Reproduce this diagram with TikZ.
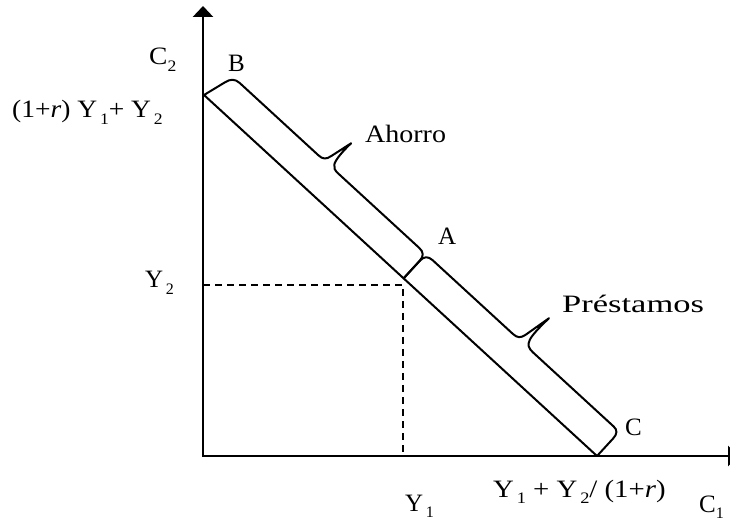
\documentclass[tikz,border=0pt]{standalone}
\usepackage{fontspec}
\setmainfont{Liberation Serif}
\usetikzlibrary{arrows.meta,calc}
\tikzset{
  axisline/.style={line width=2.6pt, {Triangle[width=20pt,length=11pt]}-{Triangle[width=20pt,length=11pt]}},
  budget/.style={line width=2pt},
  bracepath/.style={line width=2pt, line join=round, line cap=round},
  guide/.style={line width=1.9pt, dash pattern=on 7pt off 5pt},
  lbl/.style={inner sep=0pt, anchor=base west, font=\fontsize{25}{30}\selectfont},
}
\newcommand{\lsub}[2][2.5pt]{\kern#1\raisebox{-0.27em}{\fontsize{16}{16}\selectfont #2}}
\newcommand{\wx}[2][1.15]{\scalebox{#1}[1]{#2}}
\begin{document}
\begin{tikzpicture}[x=1pt,y=1pt]
\clip (0,0) rectangle (730,522);
% axes
\coordinate (O) at (203,66);
\coordinate (Ytop) at (203,516);
\coordinate (Xend) at (739,66);
\draw[axisline] (Ytop) -- (O) -- (Xend);
% budget line
\coordinate (B) at (204,427);
\coordinate (C) at (597,66);
\coordinate (A) at ($(B)!0.508!(C)$);
\draw[budget] (B) -- (C);
% dashed guides
\coordinate (Y2pt) at (203,237);
\coordinate (Corner) at (403,237);
\coordinate (Y1pt) at (403,66);
\draw[guide] (Y2pt) -- (Corner) -- (Y1pt);
% brace Ahorro
\begin{scope}[shift={(B)}, rotate=-42.57]
\draw[bracepath] (0,0) -- (7,24) .. controls (8.5,29.5) and (12,33) .. (18,33)
  -- (125,33) .. controls (131,33) and (133.5,35) .. (135,41)
  -- (141,64) .. controls (140,50) and (141,40) .. (143,37)
  .. controls (145,34) and (147,33) .. (152,33)
  -- (262,33) .. controls (268,33) and (271,30) .. (271,24) -- (271,0);
\end{scope}
% brace Prestamos
\begin{scope}[shift={(A)}, rotate=-42.57]
\draw[bracepath] (0,0) -- (0,24) .. controls (0,30) and (3,33) .. (9,33)
  -- (118,33) .. controls (124,33) and (126.5,35) .. (128,41)
  -- (134,69) .. controls (133,55) and (133,45) .. (134.5,40)
  .. controls (136,35) and (139,33) .. (145,33)
  -- (255,33) .. controls (260,33) and (262.6,30) .. (262.6,24) -- (262.6,0);
\end{scope}
% labels
\node[lbl] (lC2) at (149,457) {\wx[1.1]{C\lsub[0pt]{2}}};
\node[lbl] (lB) at (228,450) {B};
\node[lbl] (lInt) at (12,404) {\wx[1.1]{(1+\textit{r}) Y\lsub{1}+ Y\lsub{2}}};
\node[lbl] (lAh) at (365,379) {\wx[1.12]{Ahorro}};
\node[lbl] (lA) at (438,277) {A};
\node[lbl] (lY2) at (145,234) {\wx[1.0]{Y\lsub{2}}};
\node[lbl] (lPr) at (562,209) {\wx[1.38]{Préstamos}};
\node[lbl] (lC) at (625,87) {C};
\node[lbl] (lY1) at (405,11) {\wx[1.0]{Y\lsub{1}}};
\node[lbl] (lX) at (493,25) {\wx[1.15]{Y\lsub{1} + Y\lsub{2}/ (1+\textit{r})}};
\node[lbl] (lC1) at (699,10) {\wx[1.0]{C\lsub[0pt]{1}}};
\end{tikzpicture}
\end{document}
